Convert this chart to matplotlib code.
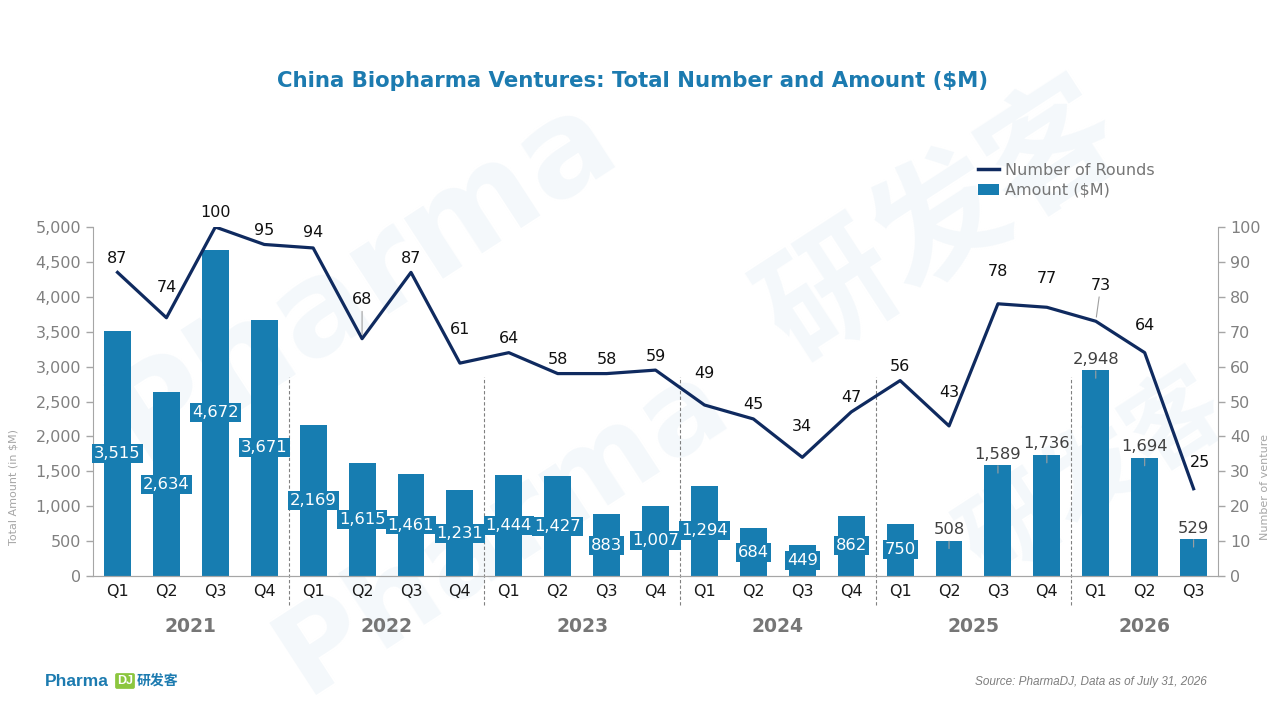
import matplotlib
matplotlib.use('Agg')
import matplotlib.pyplot as plt
import matplotlib.transforms as mtransforms
from matplotlib.lines import Line2D
from matplotlib.patches import Patch

# data
quarters = ['Q1', 'Q2', 'Q3', 'Q4'] * 5 + ['Q1', 'Q2', 'Q3']
years = ['2021', '2022', '2023', '2024', '2025', '2026']
year_mid = [1.5, 5.5, 9.5, 13.5, 17.5, 21]
amount = [3515, 2634, 4672, 3671, 2169, 1615, 1461, 1231, 1444, 1427, 883, 1007,
          1294, 684, 449, 862, 750, 508, 1589, 1736, 2948, 1694, 529]
rounds = [87, 74, 100, 95, 94, 68, 87, 61, 64, 58, 58, 59,
          49, 45, 34, 47, 56, 43, 78, 77, 73, 64, 25]

# label placement (pixels above the point)
round_dy = [14, 30, 15, 14, 15, 39, 14, 34, 14, 14, 14, 14,
            31, 14, 31, 14, 14, 33, 32, 29, 36, 27, 26]
round_dx = [0] * 20 + [5, 0, 6]
round_leader = [5, 20]
n_inside = 17  # first bars carry their label inside

bar_c = '#177db1'
line_c = '#0f2a5f'

plt.rcParams['font.family'] = ['DejaVu Sans', 'Noto Sans CJK SC']

fig = plt.figure(figsize=(12.8, 7.2), dpi=100)

# faint watermark, behind everything
wm = dict(color='#f4f8fb', weight='bold', rotation=33, zorder=-10,
          family=['DejaVu Sans', 'Noto Sans CJK SC'])
fig.text(0.07, 0.36, 'Pharma', fontsize=95, **wm)
fig.text(0.58, 0.50, '研发客', fontsize=95, **wm)
fig.text(0.20, 0.04, 'Pharma', fontsize=85, **wm)
fig.text(0.74, 0.20, '研发客', fontsize=70, **wm)

ax = fig.add_axes([0.0727, 0.2, 0.8789, 0.4847])
ax2 = ax.twinx()
ax.patch.set_alpha(0)

x = list(range(len(amount)))
ax.bar(x, amount, width=0.55, color=bar_c, zorder=2)
ax.set_xlim(-0.5, len(amount) - 0.5)
ax.set_ylim(0, 5000)
ax.set_yticks(range(0, 5001, 500))
ax.set_yticklabels([f'{v:,}' for v in range(0, 5001, 500)])
ax.set_xticks(x)
ax.set_xticklabels(quarters)

ax2.plot(x, rounds, color=line_c, lw=2.3, zorder=3)
ax2.set_ylim(0, 100)
ax2.set_yticks(range(0, 101, 10))

for a in (ax, ax2):
    a.spines['top'].set_visible(False)
    for s in ('left', 'right', 'bottom'):
        a.spines[s].set_color('#a6a6a6')
    a.tick_params(axis='y', colors='#a6a6a6', labelcolor='#808080', labelsize=11.5,
                  length=5, width=1)
ax.spines['right'].set_visible(False)
ax2.spines['left'].set_visible(False)
ax.tick_params(axis='x', length=0, labelsize=11.5, labelcolor='#1a1a1a', pad=6)

# bar labels
for i, v in enumerate(amount):
    if i < n_inside:
        ax.text(i, v / 2, f'{v:,}', ha='center', va='center', color='white', fontsize=11.8,
                bbox=dict(boxstyle='square,pad=0.12', fc=bar_c, ec='none'), zorder=4)
    else:
        tip = mtransforms.offset_copy(ax.transData, fig=fig, x=0, y=-8, units='dots')
        ax.annotate(f'{v:,}', xy=(i, v), xycoords=tip, xytext=(0, 19), textcoords='offset pixels',
                    ha='center', va='center', color='#404040', fontsize=11.8, zorder=4,
                    arrowprops=dict(arrowstyle='-', color='#a0a0a0', lw=0.8, shrinkA=1, shrinkB=0))

# line labels
for i, v in enumerate(rounds):
    kw = {}
    if i in round_leader:
        kw['arrowprops'] = dict(arrowstyle='-', color='#a0a0a0', lw=0.8, shrinkA=1, shrinkB=3)
    ax2.annotate(str(v), xy=(i, v), xytext=(round_dx[i], round_dy[i]), textcoords='offset pixels',
                 ha='center', va='center', color='#111111', fontsize=11.5, zorder=5, **kw)

# year separators and year labels
btr = mtransforms.blended_transform_factory(ax.transData, ax.transAxes)
for sx in (3.5, 7.5, 11.5, 15.5, 19.5):
    ax.plot([sx, sx], [-0.083, 0.57], transform=btr, clip_on=False, color='#808080',
            lw=0.8, ls=(0, (3, 2)), zorder=1)
for yr, m in zip(years, year_mid):
    ax.text(m, -0.146, yr, transform=btr, ha='center', va='center', fontsize=13.5,
            weight='bold', color='#767676')

fig.text(14 / 1280, 1 - 487 / 720, 'Total Amount (in $M)', rotation=90, ha='center', va='center',
         fontsize=8, color='#a6a6a6')
fig.text(1265 / 1280, 1 - 487 / 720, 'Number of venture', rotation=90, ha='center', va='center',
         fontsize=8, color='#a6a6a6')

fig.text(0.4945, 1 - 81 / 720, 'China Biopharma Ventures: Total Number and Amount ($M)',
         ha='center', va='center', fontsize=15.3, weight='bold', color='#1c7bb0')

handles = [Line2D([0], [0], color=line_c, lw=2.5), Patch(facecolor=bar_c)]
fig.legend(handles, ['Number of Rounds', 'Amount ($M)'], loc='upper left',
           bbox_to_anchor=(970 / 1280, 1 - 155 / 720), frameon=False, fontsize=11.5,
           labelcolor='#767676', handlelength=1.3, handletextpad=0.4, labelspacing=0.3,
           borderpad=0)

fig.text(1207 / 1280, 1 - 682 / 720, 'Source: PharmaDJ, Data as of July 31, 2026', ha='right',
         va='center', fontsize=8.5, style='italic', color='#7f7f7f', family='Liberation Sans')

# logo bottom left
fig.text(45 / 1280, 1 - 681 / 720, 'Pharma', ha='left', va='center', fontsize=12.5, weight='bold',
         color='#1c7bb0', family='Liberation Sans')
fig.text(125 / 1280, 1 - 681 / 720, 'DJ', ha='center', va='center', fontsize=9, weight='bold',
         color='white', family='Liberation Sans',
         bbox=dict(boxstyle='round,pad=0.15', fc='#8cc63f', ec='none'))
fig.text(137 / 1280, 1 - 681 / 720, '研发客', ha='left', va='center', fontsize=10, weight='bold',
         color='#1c7bb0', family=['Noto Sans CJK SC', 'DejaVu Sans'])

fig.savefig('out.png', dpi=100, facecolor='w')
